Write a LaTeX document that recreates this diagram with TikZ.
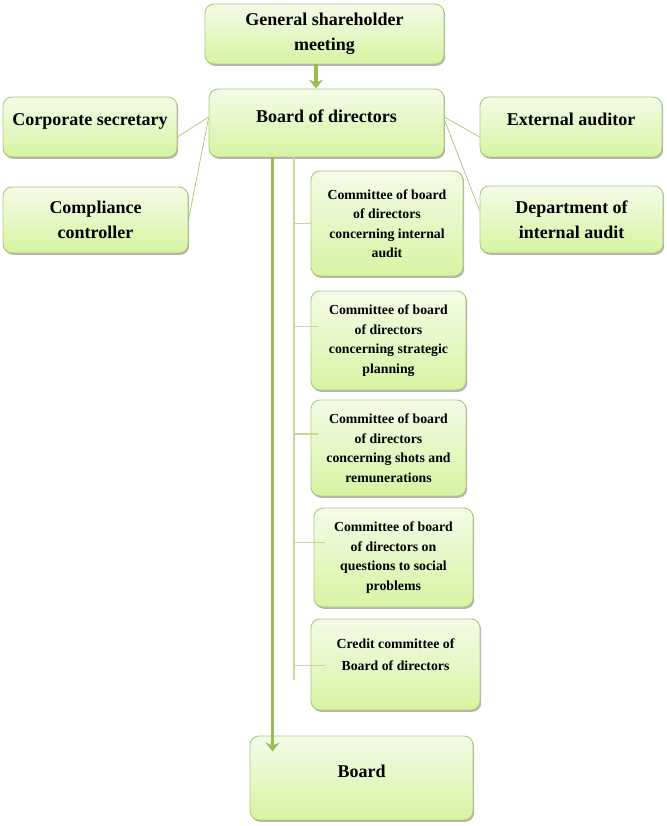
\documentclass[tikz,border=0pt]{standalone}
\usepackage{fontspec}
\setmainfont{Liberation Serif}
\usetikzlibrary{arrows.meta,shadows}
\definecolor{leaf}{HTML}{9BBB59}
\definecolor{leaftop}{HTML}{F4FBE8}
\definecolor{leafbot}{HTML}{D6F4A2}
\definecolor{stem}{HTML}{C3D89A}

\begin{document}
\begin{tikzpicture}[x=1pt, y=-1pt,
		unit/.style={rectangle, rounded corners=9pt, draw=leaf!80, line width=0.9pt, top color=leaftop, bottom color=leafbot, inner sep=0pt, align=center, font=\fontsize{18}{25}\selectfont\bfseries, drop shadow={shadow xshift=1.2pt, shadow yshift=-1.8pt, opacity=0.3, fill=black}},
		committee/.style={unit, font=\fontsize{13.8}{19.5}\selectfont\bfseries},
		lift/.style={text height=12.5pt, text depth=#1},
		link/.style={draw=leaf!85, line width=0.7pt},
		stemline/.style={draw=stem, line width=1.2pt},
		flow/.style={draw=leaf, line width=3.5pt, -{Stealth[length=9pt, width=14pt, inset=3pt]}}]
		\useasboundingbox (0,0) rectangle (666,826);
		\node[unit, minimum width=239, minimum height=60] (1) at (324.5,34) {General shareholder\\meeting};
		\node[unit, minimum width=235, minimum height=68, lift=14pt] (2) at (326.5,123) {Board of directors};
		\node[unit, minimum width=174, minimum height=60, lift=16pt] (3) at (90,127) {Corporate secretary};
		\node[unit, minimum width=185, minimum height=66] (4) at (95.5,220) {Compliance\\controller};
		\node[unit, minimum width=182, minimum height=60, lift=16pt] (5) at (571,127) {External auditor};
		\node[unit, minimum width=183, minimum height=67] (6) at (571.5,219.5) {Department of\\internal audit};
		\node[committee, minimum width=152, minimum height=105] (7) at (387,223.5) {Committee of board\\of directors\\concerning internal\\audit};
		\node[committee, minimum width=155, minimum height=99] (8) at (388.5,340.5) {Committee of board\\of directors\\concerning strategic\\planning};
		\node[committee, minimum width=155, minimum height=96] (9) at (388.5,448) {Committee of board\\of directors\\concerning shots and\\remunerations};
		\node[committee, minimum width=159, minimum height=99] (10) at (393.5,557.5) {Committee of board\\of directors on\\questions to social\\problems};
		\node[committee, minimum width=169, minimum height=91, font=\fontsize{13.8}{22}\selectfont\bfseries, text depth=20pt] (11) at (395.5,664.5) {Credit committee of\\Board of directors};
		\node[unit, minimum width=223, minimum height=84, lift=14pt] (12) at (361.5,778) {Board};
		\coordinate (s1) at (294,157);
		\coordinate (s2) at (294,680);
		\coordinate (t7) at (7.west);
		\coordinate (t8) at ([xshift=7pt,yshift=14pt]8.west);
		\coordinate (t9) at ([xshift=7pt,yshift=14pt]9.west);
		\coordinate (t10) at ([xshift=11pt,yshift=15pt]10.west);
		\coordinate (t11) at ([xshift=14pt,yshift=-1pt]11.west);

		\path ([yshift=-10pt]3.east) edge[link] ([yshift=6pt]2.west);
		\path (4.east) edge[link] ([yshift=5pt]2.west);
		\path ([yshift=-10pt]5.west) edge[link] ([yshift=6pt]2.east);
		\path ([yshift=9pt]6.west) edge[link] ([yshift=3pt]2.east);
		\path (s1) edge[stemline] (s2);
		\path (s1 |- t7) edge[stemline] (t7);
		\path (s1 |- t8) edge[stemline] (t8);
		\path (s1 |- t9) edge[stemline] (t9);
		\path (s1 |- t10) edge[stemline] (t10);
		\path (s1 |- t11) edge[stemline] (t11);
		\path ([xshift=-8.5pt]1.south) edge[flow] ([xshift=-10.5pt]2.north);
		\path ([xshift=23pt]2.south -| 12.west) edge[flow] ([xshift=23pt,yshift=-16pt]12.north west);
	\end{tikzpicture}
\end{document}
